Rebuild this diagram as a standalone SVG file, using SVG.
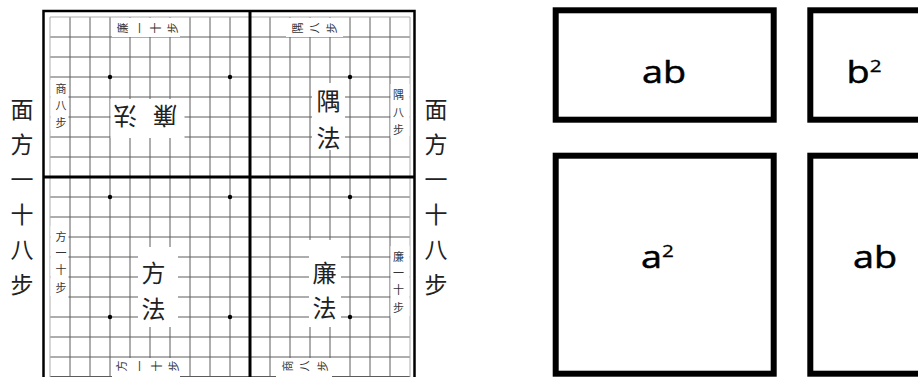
<svg xmlns="http://www.w3.org/2000/svg" width="918" height="377" viewBox="0 0 918 377">
<style>
.bg{fill:#fff}
.grid{stroke:#5c5c5c;stroke-width:1;fill:none}
.edge{stroke:#adadad;stroke-width:1;fill:none}
.thick{stroke:#000;stroke-width:3;fill:none}
.frame{stroke:#000;stroke-width:2.5;fill:none}
.lab{fill:#fff;stroke:none}
.cj{font-family:"Noto Sans CJK SC","Noto Sans CJK JP",sans-serif;text-anchor:middle;dominant-baseline:central;fill:#222}
.s{font-size:11px;fill:#333}
.b{font-size:24px}
.o{font-size:23px}
.box{fill:#fff;stroke:#000;stroke-width:6}
.lt{font-family:"Open Sans","DejaVu Sans",sans-serif;font-size:31px;fill:#000;stroke:#000;stroke-width:0.5;text-anchor:middle}
.sup{font-size:17px;stroke-width:0.3}
</style>
<rect width="918" height="377" fill="#fff"/>
<g id="board">
<path class="grid" d="M70 17V377M90 17V377M110 17V377M130 17V377M150 17V377M170 17V377M190 17V377M210 17V377M230 17V377M270 17V377M290 17V377M310 17V377M330 17V377M350 17V377M370 17V377M390 17V377M50 37H410M50 57H410M50 77H410M50 97H410M50 117H410M50 137H410M50 157H410M50 197H410M50 217H410M50 237H410M50 257H410M50 277H410M50 297H410M50 317H410M50 337H410M50 357H410M50 376.5H410"/>
<path class="edge" d="M50 17V377M410 17V377M50 17H410"/>
<path class="thick" d="M250 11V377M43.5 177H414.5"/>
<path class="frame" d="M43.5 380V11H414.5V380"/>
<g fill="#000">
<circle cx="110" cy="77" r="2.2"/><circle cx="230" cy="77" r="2.2"/><circle cx="350" cy="77" r="2.2"/>
<circle cx="110" cy="197" r="2.2"/><circle cx="230" cy="197" r="2.2"/><circle cx="350" cy="197" r="2.2"/>
<circle cx="110" cy="317" r="2.2"/><circle cx="230" cy="317" r="2.2"/><circle cx="350" cy="317" r="2.2"/>
</g>
</g>
<g id="lian-top">
<rect class="lab" x="112" y="18" width="68" height="19"/>
<rect class="lab" x="50.5" y="80" width="18" height="50"/>
<rect class="lab" x="110.5" y="99" width="74" height="39"/>
<g class="cj s">
<text x="122" y="28" transform="rotate(-90 122 28)">廉</text>
<text x="138.5" y="28" transform="rotate(-90 138.5 28)">一</text>
<text x="155" y="28" transform="rotate(-90 155 28)">十</text>
<text x="171.5" y="28" transform="rotate(-90 171.5 28)">步</text>
<text x="61" y="88">商</text>
<text x="61" y="105">八</text>
<text x="61" y="122">步</text>
</g>
<g class="cj b">
<text x="125" y="117" transform="rotate(180 125 117)">法</text>
<text x="165" y="117" transform="rotate(180 165 117)">廉</text>
</g>
</g>
<g id="yu">
<rect class="lab" x="286" y="18" width="57" height="19"/>
<rect class="lab" x="390.5" y="84" width="19" height="54"/>
<rect class="lab" x="312" y="83" width="33" height="67"/>
<g class="cj s">
<text x="297" y="28" transform="rotate(-90 297 28)">隅</text>
<text x="313.5" y="28" transform="rotate(-90 313.5 28)">八</text>
<text x="331" y="28" transform="rotate(-90 331 28)">步</text>
<text x="398.5" y="94">隅</text>
<text x="398.5" y="111.5">八</text>
<text x="398.5" y="129">步</text>
</g>
<g class="cj b">
<text x="328.5" y="99">隅</text>
<text x="328.5" y="136">法</text>
</g>
</g>
<g id="fang">
<rect class="lab" x="50.5" y="226" width="18" height="72"/>
<rect class="lab" x="138" y="247" width="40" height="80"/>
<rect class="lab" x="112" y="358" width="68" height="19"/>
<g class="cj s">
<text x="61" y="236">方</text>
<text x="61" y="252">一</text>
<text x="61" y="269">十</text>
<text x="61" y="287">步</text>
<text x="121" y="366" transform="rotate(-90 121 366)">方</text>
<text x="138.5" y="366" transform="rotate(-90 138.5 366)">一</text>
<text x="156" y="366" transform="rotate(-90 156 366)">十</text>
<text x="173" y="366" transform="rotate(-90 173 366)">步</text>
</g>
<g class="cj b">
<text x="153.5" y="271">方</text>
<text x="153.5" y="307">法</text>
</g>
</g>
<g id="lian-right">
<rect class="lab" x="309" y="240" width="32" height="87"/>
<rect class="lab" x="390.5" y="246" width="19" height="72"/>
<rect class="lab" x="276" y="358" width="56" height="19"/>
<g class="cj s">
<text x="398.5" y="256">廉</text>
<text x="398.5" y="272">一</text>
<text x="398.5" y="289">十</text>
<text x="398.5" y="307">步</text>
<text x="287" y="366" transform="rotate(-90 287 366)">商</text>
<text x="304" y="366" transform="rotate(-90 304 366)">八</text>
<text x="322" y="366" transform="rotate(-90 322 366)">步</text>
</g>
<g class="cj b">
<text x="324.5" y="271.5">廉</text>
<text x="324.5" y="306">法</text>
</g>
</g>
<g id="side-left" class="cj o">
<text x="22" y="108">面</text>
<text x="22" y="143">方</text>
<text x="22" y="178">一</text>
<text x="22" y="213">十</text>
<text x="22" y="248">八</text>
<text x="22" y="283">步</text>
</g>
<g id="side-right" class="cj o">
<text x="436" y="108">面</text>
<text x="436" y="143">方</text>
<text x="436" y="178">一</text>
<text x="436" y="213">十</text>
<text x="436" y="248">八</text>
<text x="436" y="283">步</text>
</g>
<g id="box-ab-top">
<rect class="box" x="555.7" y="10.3" width="218" height="109.4"/>
<text class="lt" x="664" y="83" transform="translate(664 0) scale(1.22 1) translate(-664 0)">ab</text>
</g>
<g id="box-b2">
<rect class="box" x="810.3" y="10.3" width="120" height="109.4"/>
<text class="lt" x="864" y="83" transform="translate(864 0) scale(1.22 1) translate(-864 0)">b<tspan class="sup" dy="-11">2</tspan></text>
</g>
<g id="box-a2">
<rect class="box" x="555.7" y="155.7" width="218" height="218"/>
<text class="lt" x="657.5" y="268" transform="translate(657.5 0) scale(1.22 1) translate(-657.5 0)">a<tspan class="sup" dy="-11">2</tspan></text>
</g>
<g id="box-ab-right">
<rect class="box" x="810.3" y="155.7" width="120" height="218"/>
<text class="lt" x="875" y="268" transform="translate(875 0) scale(1.22 1) translate(-875 0)">ab</text>
</g>
</svg>
